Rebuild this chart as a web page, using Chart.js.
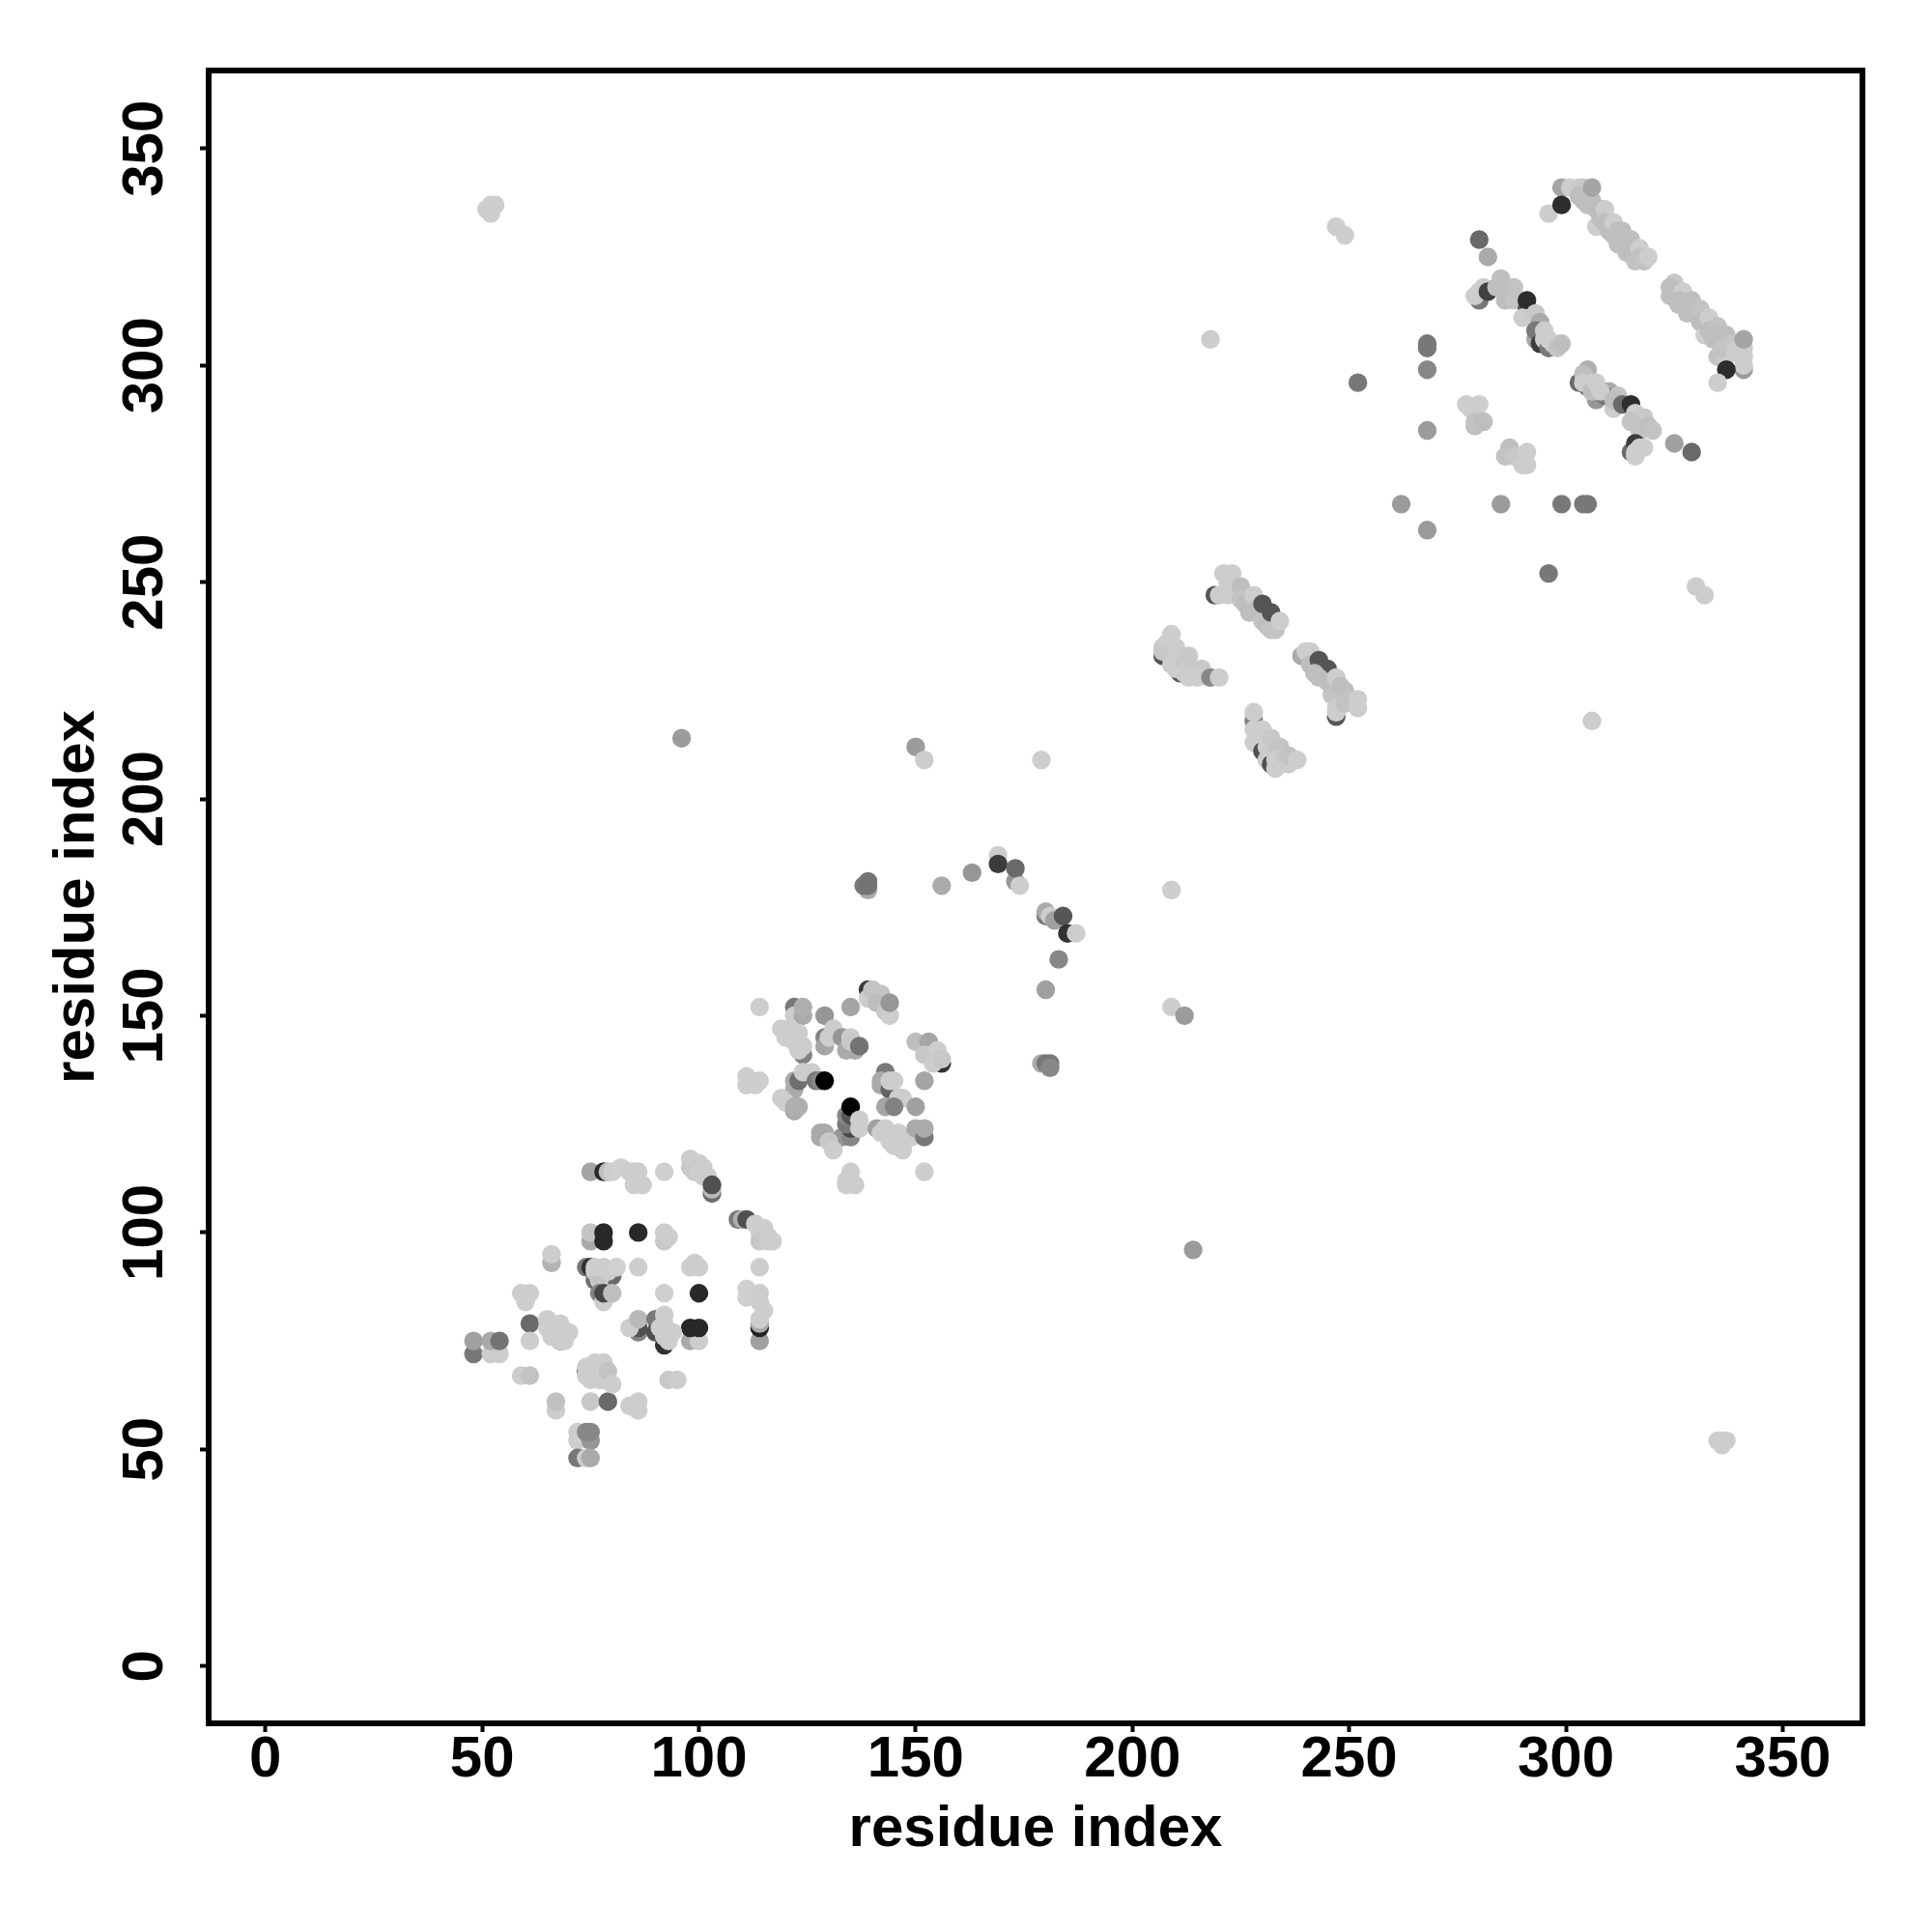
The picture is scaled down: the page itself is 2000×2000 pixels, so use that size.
<!DOCTYPE html>
<html>
<head>
<meta charset="utf-8">
<title>residue contacts</title>
<script src="https://cdn.jsdelivr.net/npm/chart.js@4"></script>
<style>
  html, body { margin: 0; padding: 0; background: #fff; }
  canvas { display: block; }
</style>
</head>
<body>
<canvas id="contact-map" width="2000" height="2000"></canvas>
<script>
// each contact is [residue x, residue y, grey level], later ones paint on top
const tickValues = [0, 50, 100, 150, 200, 250, 300, 350];
const axisTitle = 'residue index';

const clusterLow = [
  [75,114,165],[78,114,40],[79,114,190],[80,114,205],[82,115,208],[84,114,205],[85,114,205],[86,114,205],
  [85,111,205],[87,111,205],[92,114,207],[98,117,205],[98,115,200],[99,116,205],[100,116,205],[99,114,200],[100,114,205],
  [101,115,205],[102,113,205],[101,113,205],
  [103,109,110],[103,110,185],[103,111,80],[109,103,120],[110,103,175],[111,103,80],[113,102,205],
  [115,101,205],[114,100,205],[114,98,200],[116,98,205],[117,98,205],[116,99,205],[114,92,205],[111,87,208],[111,85,208],[114,86,205],
  [114,84,205],[115,82,205],[114,75,160],[114,78,35],[114,79,170],[114,80,205],
  [98,75,170],[100,75,205],[98,78,40],[100,78,40],[100,86,40],[92,86,207],[86,100,40],
  [75,98,170],[75,100,195],[78,98,40],[78,100,40],[92,98,200],[92,100,205],[93,99,205],
  [66,93,180],[66,95,205],[74,92,120],[75,92,50],[76,89,110],[78,85,135],[80,90,105],[77,89,205],[76,91,205],[77,90,195],[76,92,205],[78,92,205],
  [79,91,205],[81,92,208],[86,92,205],[98,92,205],[100,92,205],[99,93,205],
  [77,86,130],[78,84,205],[78,86,70],[80,86,190],[59,86,205],[61,86,205],[60,84,205],
  [61,79,105],[61,75,205],[68,75,70],[65,80,205],[65,78,205],[66,76,205],[68,79,205],[68,75,205],[67,77,205],[70,77,205],[69,75,205],
  [48,72,120],[48,75,160],[52,72,205],[54,72,205],[52,75,170],[54,75,115],
  [59,67,205],[61,67,195],[67,59,205],[67,61,192],[75,61,200],[79,61,105],[84,60,205],[86,59,205],[86,61,205],
  [72,52,205],[72,54,205],[75,52,150],[74,54,135],[75,54,135],[72,48,120],[74,48,205],[75,48,170],
  [93,66,200],[95,66,205],[74,68,65],[74,69,205],[74,67,205],[76,70,205],[75,68,205],[75,66,205],[76,68,205],[77,66,205],[78,66,205],[77,69,205],[78,70,205],[79,68,195],[80,65,205],
  [86,77,130],[86,78,80],[84,78,205],[86,80,185],[90,80,120],[90,77,80],[92,74,50],
  [92,81,205],[92,79,205],[92,76,205],[94,77,205],[93,75,205],[91,78,205]
];

const clusterMid = [
  [114,152,205],[122,152,120],[122,150,205],[124,150,170],[124,152,175],[129,150,150],[135,152,165],
  [139,156,55],[139,154,205],[140,156,195],[142,155,195],[141,153,190],[143,151,200],[144,150,205],[144,153,150],
  [124,141,130],[119,147,205],[121,147,205],[123,146,205],[120,145,205],[122,144,205],[123,142,205],[124,143,205],
  [129,145,130],[129,143,165],[131,147,205],[130,145,205],[133,145,150],[134,142,170],[136,142,170],
  [135,145,205],[135,144,200],[137,143,115],
  [150,144,190],[153,144,165],[152,141,200],[156,139,50],[154,139,205],[155,142,205],[156,140,200],[152,135,165],
  [143,137,120],[142,134,170],[142,135,170],[144,133,100],[144,135,205],[145,135,205],[146,131,205],[147,131,205],
  [143,129,165],[145,129,130],[150,129,160],
  [111,136,205],[111,134,205],[113,134,205],[114,135,205],
  [122,133,170],[122,135,170],[123,135,110],[124,137,205],[126,137,205],[127,135,120],[128,135,135],[129,135,0],
  [119,131,205],[120,130,205],[122,128,170],[122,129,175],[123,129,175],
  [133,122,150],[135,122,135],[135,124,70],[134,125,120],[134,127,135],[135,127,85],[135,129,0],[137,126,205],[137,124,205],
  [128,122,170],[128,123,170],[129,123,170],[130,121,200],[131,119,205],
  [141,124,160],[143,124,205],[142,123,205],[144,121,205],[146,123,205],[145,120,205],[147,119,205],
  [149,122,205],[150,124,170],[152,122,120],[152,124,170],
  [134,111,205],[136,111,205],[134,112,205],[135,114,205],[152,114,205],
  [139,179,170],[138,180,120],[139,180,115],[139,181,115],[156,180,170],[163,183,150],[169,187,205],[169,185,60],
  [173,181,150],[173,184,105],[174,180,205],[180,173,120],[180,174,170],[181,173,205],[182,172,160],[184,173,85],[185,169,50],[187,169,205],
  [183,163,135],[180,156,160],[179,139,170],[180,139,120],[181,139,120],[181,138,135]
];

const clusterSheet = [
  [221,252,205],[223,252,205],[222,250,205],[219,247,85],[220,247,205],[222,247,205],[225,249,190],[225,246,195],
  [226,245,190],[227,243,190],[228,247,205],[229,244,190],[230,241,195],[231,240,190],[232,239,195],[233,239,195],[230,245,85],[232,243,85],[234,241,205],
  [207,233,85],[207,235,205],[207,234,200],[209,238,205],[208,236,205],[209,234,200],[210,235,205],[209,231,205],[211,229,90],[210,230,205],[211,232,205],[212,231,200],[213,233,200],
  [212,229,205],[214,230,200],[213,228,205],[216,230,200],[215,228,205],[218,228,135],[220,228,205],
  [239,233,170],[240,234,205],[241,234,205],[241,231,190],[243,232,85],[245,230,85],[242,229,190],[243,228,190],[245,227,190],[247,228,205],
  [246,224,195],[248,226,190],[249,225,190],[250,223,195],[247,219,85],[247,220,205],[247,221,205],[249,222,195],[252,223,205],[252,221,205],
  [228,218,130],[228,220,205],[228,216,205],[230,216,205],[228,213,205],[229,214,205],[230,211,80],[231,212,205],[232,214,200],[231,209,205],
  [233,211,200],[234,212,195],[232,208,80],[233,209,205],[233,207,205],[234,208,205],[235,210,200],[236,208,205],[236,210,195],[238,209,205]
];

const clusterTop = [
  [299,341,165],[301,341,205],[303,341,205],[304,341,200],[296,335,205],[303,339,190],[304,338,190],[305,337,190],[306,338,190],[307,332,205],
  [307,336,190],[308,334,190],[308,336,190],[309,336,205],[309,333,190],[310,331,190],[311,330,190],[311,333,205],[312,328,190],[312,331,190],[313,331,190],[313,328,190],[314,326,190],[315,329,190],[315,327,190],
  [316,324,195],[316,327,190],[318,324,195],[317,327,205],[317,325,195],[319,325,205],[306,341,165],[299,337,45],
  [325,319,200],[324,318,190],[324,316,190],[327,317,205],[326,315,190],[326,314,190],[327,314,190],[329,315,190],[328,312,190],[330,312,190],[331,313,195],
  [331,310,190],[332,307,205],[332,310,190],[333,311,205],[333,308,190],[335,309,195],[334,306,190],[335,307,190],[335,302,195],[337,302,205],[337,307,190],[336,304,195],[338,305,195],
  [339,305,200],[339,303,205],[341,299,155],[341,300,205],[341,302,205],[341,304,205],[341,306,165],[337,299,45],[335,296,205],
  [280,329,105],[282,325,170],[280,315,120],[279,316,205],[280,317,205],[281,318,205],[282,317,65],[285,320,190],[284,318,190],[286,318,190],
  [288,318,195],[286,315,190],[288,315,195],[291,313,85],[291,315,45],[290,311,205],[292,311,205],[293,312,200],[294,310,170],
  [293,306,170],[293,308,120],[294,305,60],[295,306,205],[296,304,120],[296,306,205],[295,308,205],[297,305,205],[298,304,195],[299,305,190],
  [303,296,105],[305,295,105],[307,292,150],[305,299,175],[304,298,190],[304,296,205],[306,296,205],[306,294,190],[307,296,205],
  [310,294,170],[309,293,120],[308,294,205],[312,293,195],[311,290,205],[311,292,190],[313,291,105],[315,291,45],[316,289,205],[318,288,200],
  [315,287,195],[317,285,195],[319,286,190],[320,285,195],[315,280,105],[316,282,60],[316,279,205],[316,280,205],[317,281,205],[318,281,205],
  [325,282,160],[329,280,105],
  [277,291,205],[280,291,205],[278,290,205],[279,286,190],[279,287,195],[281,287,190],
  [287,281,190],[286,279,195],[288,279,200],[290,277,205],[291,277,205],[291,280,205]
];

const strayContacts = [
  [52,337,205],[53,337,205],[51,336,205],[52,335,205],[336,51,205],[335,52,205],[336,52,205],[337,52,205],
  [96,214,155],[150,212,155],[152,209,205],[179,209,205],[209,179,205],[209,152,205],[212,150,155],[214,96,155],
  [218,306,205],[252,296,120],[262,268,155],[268,262,155],[268,285,155],[268,299,135],[268,304,120],[268,305,120],
  [285,268,155],[299,268,120],[304,268,120],[305,268,120],[296,252,120],[330,249,205],[332,247,205],
  [306,218,205],[247,332,205],[249,330,205]
];

const contacts = [...clusterLow, ...clusterMid, ...clusterSheet, ...clusterTop, ...strayContacts];

function axisOptions(extra) {
  return Object.assign({
    type: 'linear',
    afterBuildTicks: scale => { scale.ticks = tickValues.map(v => ({ value: v })); },
    grid: { drawOnChartArea: false, drawTicks: true, tickLength: 9, tickWidth: 4, tickColor: '#000' },
    border: { display: false }
  }, extra);
}

const frame = {
  id: 'frame',
  afterDraw(chart) {
    const a = chart.chartArea;
    const ctx = chart.ctx;
    ctx.save();
    ctx.strokeStyle = '#000';
    ctx.lineWidth = 6;
    ctx.strokeRect(a.left, a.top, a.right - a.left, a.bottom - a.top);
    ctx.restore();
  }
};

const labelFont = { family: '"Liberation Sans"', size: 60, weight: 'bold' };

new Chart(document.getElementById('contact-map').getContext('2d'), {
  type: 'scatter',
  data: {
    datasets: [{
      data: contacts.map(c => ({ x: c[0], y: c[1] })),
      backgroundColor: contacts.map(c => `rgb(${c[2]},${c[2]},${c[2]})`),
      borderWidth: 0,
      pointRadius: 9.7,
      pointHoverRadius: 9.7
    }]
  },
  options: {
    responsive: false,
    animation: false,
    layout: { padding: { top: 73, right: 72, left: 0, bottom: 0 } },
    plugins: { legend: { display: false }, tooltip: { enabled: false } },
    scales: {
      x: axisOptions({
        min: -13.1, max: 368.4,
        afterFit: scale => { scale.height = 216; },
        ticks: { autoSkip: false, maxRotation: 0, color: '#000', font: labelFont, padding: -7 },
        title: { display: true, text: axisTitle, color: '#000', font: labelFont, padding: { top: 0, bottom: 70 } }
      }),
      y: axisOptions({
        min: -13.2, max: 368,
        afterFit: scale => { scale.width = 216; },
        ticks: { autoSkip: false, minRotation: 90, maxRotation: 90, crossAlign: 'center', color: '#000', font: labelFont, padding: 5 },
        title: { display: true, text: axisTitle, color: '#000', font: labelFont, padding: { top: 44, bottom: 0 } }
      })
    }
  },
  plugins: [frame]
});
</script>
</body>
</html>
